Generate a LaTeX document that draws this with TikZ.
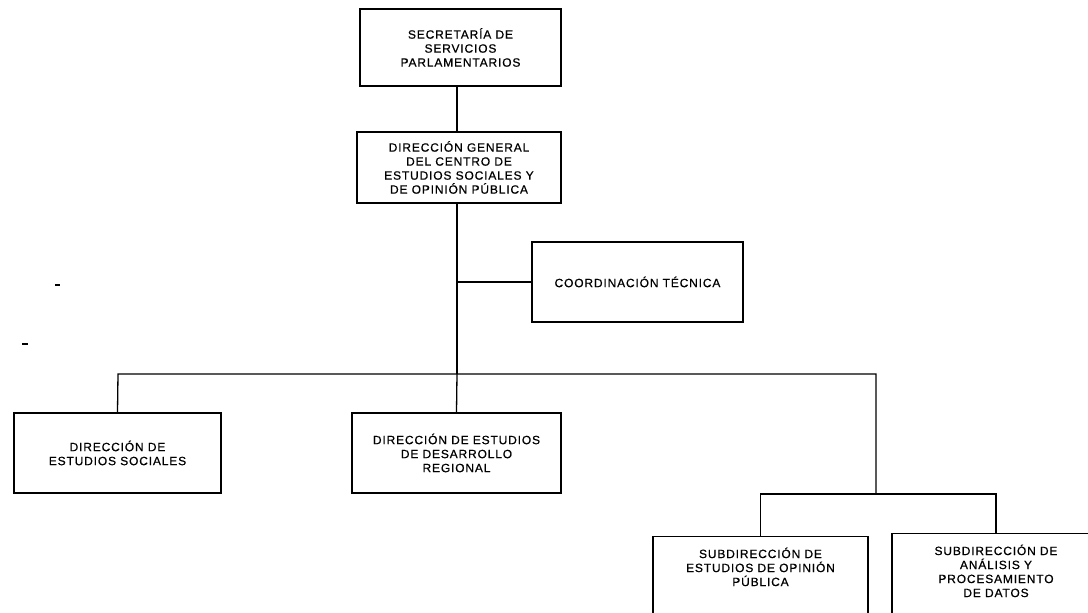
\documentclass[tikz,border=0pt]{standalone}
\usepackage{fontspec}
\setmainfont{Liberation Sans}[LetterSpace=7, FakeBold=0.6]
\usetikzlibrary{positioning}
\tikzset{
	unit/.style={draw, line width=1.3pt, align=center, inner sep=2pt, font=\fontsize{12}{14}\selectfont},
	link/.style={line width=1.3pt},
}

\begin{document}
\begin{tikzpicture}[x=1pt, y=-1pt]
			%%%%% START %%%%%
			\clip (0, 0) rectangle (1088, 613);
			
			\node[unit, minimum width=201, minimum height=77] (sec) at (460.5, 47.5) {SECRETARÍA DE\\SERVICIOS\\PARLAMENTARIOS};
			\node[unit, minimum width=204, minimum height=71] (dg) at (459, 167.5) {DIRECCIÓN GENERAL\\DEL CENTRO DE\\ESTUDIOS SOCIALES Y\\DE OPINIÓN PÚBLICA};
			\node[unit, minimum width=211, minimum height=80] (coord) at (637.5, 282) {COORDINACIÓN TÉCNICA};
			
			\node[unit, minimum width=207, minimum height=80] (des) at (117.5, 453) {DIRECCIÓN DE\\ESTUDIOS SOCIALES};
			\node[unit, minimum width=209, minimum height=80] (dedr) at (456.5, 453) {DIRECCIÓN DE ESTUDIOS\\DE DESARROLLO\\REGIONAL};
			
			\node[unit, minimum width=215, anchor=north, inner ysep=11pt, text depth=60pt] (sub1) at (760.5, 536) {SUBDIRECCIÓN DE\\ESTUDIOS DE OPINIÓN\\PÚBLICA};
			\node[unit, minimum width=208, anchor=north, inner ysep=11pt, text depth=60pt] (sub2) at (996, 533) {SUBDIRECCIÓN DE\\ANÁLISIS Y\\PROCESAMIENTO\\DE DATOS};
			
			\coordinate (trunk) at (457, 374);
			\coordinate (lend) at (118, 374);
			\coordinate (rend) at (876, 374);
			\coordinate (split) at (876, 494);
			
			\draw[link] (sec.south -| trunk) -- (dg.north -| trunk);
			\draw[link] (dg.south -| trunk) -- (trunk);
			\draw[link] (coord.west) -- (coord.west -| trunk);
			\draw[link] (des.north) -- (lend) -- (rend) -- (split);
			\draw[link] (trunk) -- (dedr.north);
			\draw[link] (sub1.north) |- (split) -| (sub2.north);
			
			% marks on the left margin
			\draw[link] (55, 285) -- (60, 285);
			\draw[link] (22, 344) -- (28, 344);
			
			%%%%% END %%%%%
\end{tikzpicture}
\end{document}
